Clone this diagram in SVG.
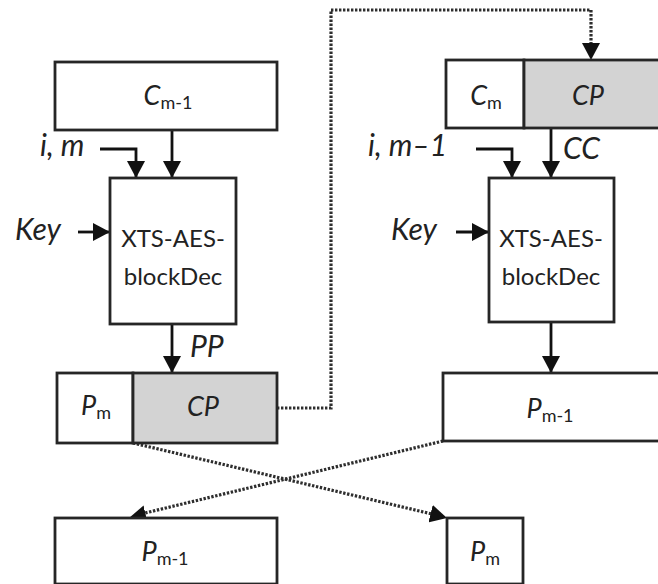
<svg xmlns="http://www.w3.org/2000/svg" width="658" height="584" viewBox="0 0 658 584">
  <style>
    .box { fill: #ffffff; stroke: #262626; stroke-width: 2.8; }
    .grey { fill: #d3d3d3; stroke: #262626; stroke-width: 2.8; }
    .arr { fill: none; stroke: #111111; stroke-width: 2.8; }
    .dot { fill: none; stroke: #2e2e2e; stroke-width: 3.2; stroke-dasharray: 2.4 1.6; }
    text { font-family: Lato, "Open Sans", "Liberation Sans", sans-serif; fill: #222222; }
    .lbl { font-size: 30px; font-style: italic; }
    .nm { font-size: 27px; font-style: italic; }
    .blk { font-size: 24px; text-anchor: middle; }
    .sub { font-size: 18px; font-style: normal; }
    .c { text-anchor: middle; }
  </style>
  <defs>
    <marker id="ah" viewBox="0 0 17 18" refX="17" refY="9" markerUnits="userSpaceOnUse" markerWidth="17" markerHeight="18" orient="auto">
      <path d="M0,0 L17,9 L0,18 z" fill="#111111"/>
    </marker>
  </defs>
  <rect width="658" height="584" fill="#ffffff"/>

  <g id="connectors">
    <line class="arr" x1="172" y1="130" x2="172" y2="178" marker-end="url(#ah)"/>
    <polyline class="arr" points="100,149 136,149 136,178" marker-end="url(#ah)"/>
    <line class="arr" x1="78" y1="232" x2="110" y2="232" marker-end="url(#ah)"/>
    <line class="arr" x1="172" y1="324" x2="172" y2="373" marker-end="url(#ah)"/>
    <line class="arr" x1="551" y1="128" x2="551" y2="178" marker-end="url(#ah)"/>
    <polyline class="arr" points="476,149 512,149 512,178" marker-end="url(#ah)"/>
    <line class="arr" x1="456" y1="232" x2="489" y2="232" marker-end="url(#ah)"/>
    <line class="arr" x1="551" y1="322" x2="551" y2="373" marker-end="url(#ah)"/>
    <polyline class="dot" points="277,408 331,408 331,10 591,10 591,46"/>
    <line x1="591" y1="40" x2="591" y2="60" stroke="none" marker-end="url(#ah)"/>
    <line class="dot" x1="133" y1="443" x2="432" y2="514"/>
    <line class="dot" x1="443" y1="441" x2="145" y2="513"/>
    <line x1="420" y1="511" x2="447" y2="518" stroke="none" marker-end="url(#ah)"/>
    <line x1="160" y1="511" x2="129" y2="518" stroke="none" marker-end="url(#ah)"/>
  </g>

  <g id="c-m-1">
    <rect class="box" x="55" y="62" width="222" height="68"/>
    <text class="nm c" x="168" y="105">C<tspan class="sub" dy="4">m-1</tspan></text>
  </g>
  <g id="label-im">
    <text class="lbl" x="40" y="156">i, m</text>
  </g>
  <g id="label-key-left">
    <text class="lbl" x="15" y="240">Key</text>
  </g>
  <g id="xts-left">
    <rect class="box" x="110" y="178" width="126" height="146"/>
    <text class="blk" x="173" y="247">XTS-AES-</text>
    <text class="blk" x="173" y="285">blockDec</text>
  </g>
  <g id="label-pp">
    <text class="lbl" x="190" y="357" font-size="27">PP</text>
  </g>
  <g id="pm-cp">
    <rect class="box" x="57" y="373" width="76" height="70"/>
    <rect class="grey" x="133" y="373" width="144" height="70"/>
    <text class="nm c" x="96" y="415">P<tspan class="sub" dy="4">m</tspan></text>
    <text class="nm c" x="203" y="416">CP</text>
  </g>

  <g id="cm-cp">
    <rect class="box" x="446" y="60" width="78" height="68"/>
    <rect class="grey" x="524" y="60" width="160" height="68"/>
    <text class="nm c" x="486" y="105">C<tspan class="sub" dy="4">m</tspan></text>
    <text class="nm c" x="588" y="105">CP</text>
  </g>
  <g id="label-im1">
    <text class="lbl" x="368" y="156">i, m–1</text>
  </g>
  <g id="label-cc">
    <text class="lbl" x="563" y="159" font-size="28">CC</text>
  </g>
  <g id="label-key-right">
    <text class="lbl" x="391" y="240">Key</text>
  </g>
  <g id="xts-right">
    <rect class="box" x="489" y="178" width="125" height="144"/>
    <text class="blk" x="551" y="247">XTS-AES-</text>
    <text class="blk" x="551" y="285">blockDec</text>
  </g>
  <g id="pm-1-right">
    <rect class="box" x="443" y="373" width="240" height="68"/>
    <text class="nm c" x="550" y="418">P<tspan class="sub" dy="4">m-1</tspan></text>
  </g>

  <g id="pm-1-bottom">
    <rect class="box" x="55" y="518" width="222" height="66"/>
    <text class="nm c" x="165" y="561">P<tspan class="sub" dy="4">m-1</tspan></text>
  </g>
  <g id="pm-bottom">
    <rect class="box" x="447" y="518" width="76" height="66"/>
    <text class="nm c" x="485" y="561">P<tspan class="sub" dy="4">m</tspan></text>
  </g>
</svg>
